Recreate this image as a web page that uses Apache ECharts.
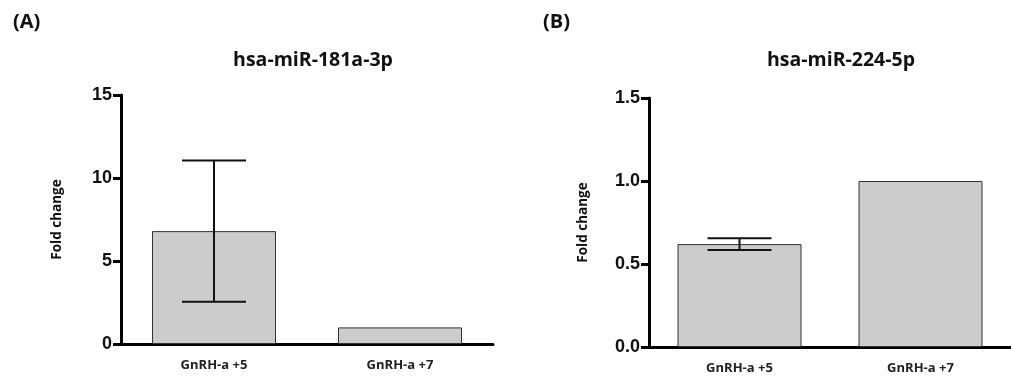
<!DOCTYPE html>
<html>
<head>
<meta charset="utf-8">
<script src="https://cdn.jsdelivr.net/npm/echarts@6/dist/echarts.min.js"></script>
<style>
  html, body { margin: 0; padding: 0; background: #ffffff; }
  #chart { width: 1011px; height: 378px; }
</style>
</head>
<body>
<div id="chart"></div>
<script>
// Groups on the x axis
const categories = ['GnRH-a +5', 'GnRH-a +7'];

// Panel A: hsa-miR-181a-3p fold change (mean and error)
const foldA = [6.8, 1.0];
const errA = [4.25, 0];
const ticksA = [0, 5, 10, 15];

// Panel B: hsa-miR-224-5p fold change (mean and error)
const foldB = [0.62, 1.0];
const errB = [0.035, 0];
const ticksB = [0.0, 0.5, 1.0, 1.5];

const titleFont = '"Open Sans", Lato, sans-serif';
const numFont = '"Liberation Sans", Arial, sans-serif';

function errorSeries(axisIdx, means, errs) {
  const rows = means.map((m, i) => [i, m - errs[i], m + errs[i]]).filter((r, i) => errs[i] > 0);
  return {
    type: 'custom',
    xAxisIndex: axisIdx,
    yAxisIndex: axisIdx,
    data: rows,
    z: 5,
    renderItem: function (params, api) {
      const x = api.value(0);
      const lo = api.coord([x, api.value(1)]);
      const hi = api.coord([x, api.value(2)]);
      const half = 32;
      const style = { stroke: '#111', lineWidth: 2 };
      return {
        type: 'group',
        children: [
          { type: 'line', shape: { x1: hi[0], y1: hi[1], x2: lo[0], y2: lo[1] }, style: style },
          { type: 'line', shape: { x1: hi[0] - half, y1: hi[1], x2: hi[0] + half, y2: hi[1] }, style: style },
          { type: 'line', shape: { x1: lo[0] - half, y1: lo[1], x2: lo[0] + half, y2: lo[1] }, style: style }
        ]
      };
    }
  };
}

function xAxisFor(gridIndex) {
  return {
    type: 'category',
    gridIndex: gridIndex,
    data: categories,
    axisLine: { lineStyle: { color: '#000', width: 3 } },
    axisTick: { alignWithLabel: true, length: 8, lineStyle: { color: '#000', width: 3 } },
    axisLabel: { color: '#222', fontFamily: titleFont, fontWeight: 'bold', fontSize: 13, margin: 15 },
    splitLine: { show: false }
  };
}

function yAxisFor(gridIndex, ticks, nameGap, fmt) {
  return {
    type: 'value',
    gridIndex: gridIndex,
    min: ticks[0],
    max: ticks[ticks.length - 1],
    interval: ticks[1] - ticks[0],
    name: 'Fold change',
    nameLocation: 'middle',
    nameGap: nameGap,
    nameTextStyle: { color: '#111', fontFamily: titleFont, fontWeight: 'bold', fontSize: 13.5 },
    axisLine: { show: true, lineStyle: { color: '#000', width: 3 } },
    axisTick: { show: true, length: 8, lineStyle: { color: '#000', width: 3 } },
    axisLabel: { color: '#111', fontFamily: numFont, fontWeight: 'bold', fontSize: 18, margin: 9, formatter: fmt },
    splitLine: { show: false }
  };
}

function barSeries(axisIdx, values) {
  return {
    type: 'bar',
    xAxisIndex: axisIdx,
    yAxisIndex: axisIdx,
    data: values,
    barWidth: 124,
    itemStyle: { color: '#cccccc', borderColor: '#333', borderWidth: 1 }
  };
}

const chart = echarts.init(document.getElementById('chart'), null, { renderer: 'canvas' });
chart.setOption({
  animation: false,
  backgroundColor: '#ffffff',
  title: [
    { text: '(A)', left: 8, top: 7, textStyle: { fontFamily: titleFont, fontWeight: 'bold', fontSize: 20, color: '#111' } },
    { text: '(B)', left: 538, top: 7, textStyle: { fontFamily: titleFont, fontWeight: 'bold', fontSize: 20, color: '#111' } },
    { text: 'hsa-miR-181a-3p', left: 308, top: 45, textAlign: 'center', textStyle: { fontFamily: titleFont, fontWeight: 'bold', fontSize: 19.5, color: '#111' } },
    { text: 'hsa-miR-224-5p', left: 836, top: 45, textAlign: 'center', textStyle: { fontFamily: titleFont, fontWeight: 'bold', fontSize: 19.5, color: '#111' } }
  ],
  grid: [
    { left: 121, top: 95, width: 372, height: 249 },
    { left: 649, top: 98, width: 373, height: 249 }
  ],
  xAxis: [xAxisFor(0), xAxisFor(1)],
  yAxis: [
    yAxisFor(0, ticksA, 57, v => String(v)),
    yAxisFor(1, ticksB, 59, v => v.toFixed(1))
  ],
  series: [
    barSeries(0, foldA),
    errorSeries(0, foldA, errA),
    barSeries(1, foldB),
    errorSeries(1, foldB, errB)
  ]
});
</script>
</body>
</html>
